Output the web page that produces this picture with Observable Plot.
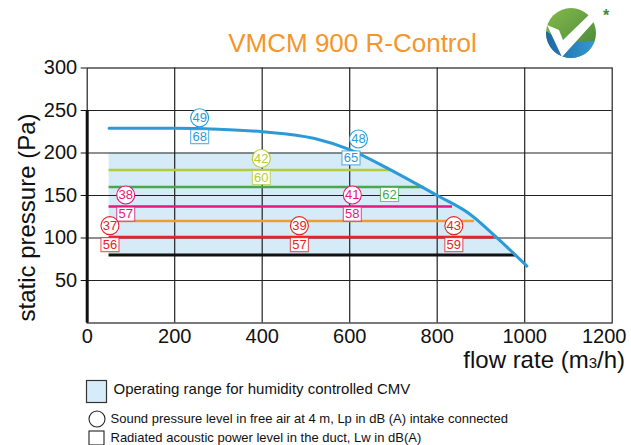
<!DOCTYPE html>
<html><head><meta charset="utf-8">
<script src="https://cdn.jsdelivr.net/npm/d3@7"></script>
<script src="https://cdn.jsdelivr.net/npm/@observablehq/plot@0.6"></script>
<style>
html,body{margin:0;padding:0;background:#fff;}
#wrap{position:relative;width:631px;height:445px;overflow:hidden;font-family:"Liberation Sans",Arial,Helvetica,sans-serif;color:#111;}
#chart{position:absolute;left:0;top:0;}
.abs{position:absolute;white-space:nowrap;}
</style></head><body>
<div id="wrap">
  <div id="chart"></div>
  <div class="abs" style="left:152.5px;width:400px;text-align:center;top:30px;font-size:26px;line-height:26px;color:#f5952a;">VMCM 900 R-Control</div>
  <svg class="abs" style="left:538px;top:4px" width="80" height="60">
    <defs>
      <linearGradient id="lg1" x1="0" y1="0" x2="1" y2="1"><stop offset="0" stop-color="#8fc04c"/><stop offset="1" stop-color="#2e7634"/></linearGradient>
      <linearGradient id="lb1" x1="0" y1="0" x2="1" y2="0"><stop offset="0" stop-color="#1a5f9e"/><stop offset="1" stop-color="#3aa7dd"/></linearGradient>
      <clipPath id="lc1"><circle cx="33" cy="29" r="25"/></clipPath>
    </defs>
    <g clip-path="url(#lc1)">
      <rect x="0" y="0" width="80" height="60" fill="url(#lg1)"/>
      <path d="M0 20 Q 22 44 62 36 L 70 60 L 0 60 Z" fill="url(#lb1)"/>
    </g>
    <path d="M9 21 L 21 26 L 25 36 L 56 6 L 62 11 L 24 53 Z" fill="#fff"/>
  </svg>
  <div class="abs" style="left:603px;top:8px;font-size:16px;line-height:16px;font-weight:bold;color:#3d8c3d;">*</div>
  <div class="abs" style="right:6px;top:347.7px;font-size:24px;line-height:24px;">flow rate (m<span style="font-size:15px">3</span>/h)</div>
  <svg class="abs" style="left:85px;top:379px" width="24" height="25"><rect x="1.5" y="1.5" width="20" height="22" fill="#d6ecf8" stroke="#333" stroke-width="1.2"/></svg>
  <div class="abs" style="left:113.5px;top:380.5px;font-size:15px;line-height:15px;">Operating range for humidity controlled CMV</div>
  <svg class="abs" style="left:87px;top:409px" width="20" height="20"><circle cx="10" cy="10" r="8" fill="#fff" stroke="#222" stroke-width="1.1"/></svg>
  <div class="abs" style="left:110.5px;top:411.5px;font-size:13px;line-height:13px;">Sound pressure level in free air at 4 m, Lp in dB (A) intake connected</div>
  <svg class="abs" style="left:88px;top:430px" width="18" height="16"><rect x="1" y="1" width="15" height="14" fill="#fff" stroke="#222" stroke-width="1.1"/></svg>
  <div class="abs" style="left:110.5px;top:430.5px;font-size:13px;line-height:13px;">Radiated acoustic power level in the duct, Lw in dB(A)</div>
</div>
<script>
// Performance curve (flow m3/h, static pressure Pa)
const curveFlow = [50, 200, 300, 400, 520, 600, 690, 800, 875, 935, 1005];
const curvePressure = [229, 229, 228, 225, 217, 204, 181, 150, 128, 101, 67];

// Operating range (humidity controlled CMV)
const rangeLow = 80;
const rangeHigh = 200;

// Horizontal operating lines
const levelSeries = ["yellowGreen", "green", "magenta", "orange", "red", "range"];
const levelPressure = [180, 160, 137, 120, 101, 80];
const levelStart = [50, 50, 50, 50, 50, 50];
const levelEnd = [695, 770, 835, 885, 930, 980];

// Sound pressure level Lp (circles)
const lpSeries = ["curve", "curve", "yellowGreen", "magenta", "magenta", "red", "red", "red"];
const lpFlow = [257, 620, 398, 88, 606, 52, 485, 838];
const lpPressure = [228, 203, 180, 137, 137, 101, 101, 101];
const lpValue = [49, 48, 42, 38, 41, 37, 39, 43];

// Acoustic power level Lw (boxes)
const lwSeries = ["curve", "curve", "yellowGreen", "green", "magenta", "magenta", "red", "red", "red"];
const lwFlow = [257, 603, 398, 691, 88, 606, 52, 485, 838];
const lwPressure = [228, 203, 180, 160, 137, 137, 101, 101, 101];
const lwValue = [68, 65, 60, 62, 57, 58, 56, 57, 59];

// Axes
const xTicks = [0, 200, 400, 600, 800, 1000, 1200];
const yTicks = [50, 100, 150, 200, 250, 300];
const yLabel = "static pressure (Pa)";
const axisAccent = [{q: 0, from: 0, to: 250}];

const curve = curveFlow.map((q, i) => ({q, p: curvePressure[i]}));
const levels = levelSeries.map((s, i) => ({s, p: levelPressure[i], from: levelStart[i], to: levelEnd[i]}));
const lp = lpSeries.map((s, i) => ({s, q: lpFlow[i], p: lpPressure[i], v: String(lpValue[i])}));
const lw = lwSeries.map((s, i) => ({s, q: lwFlow[i], p: lwPressure[i], v: String(lwValue[i])}));
const outside = [{lo: rangeHigh, hi: 300}, {lo: 0, hi: rangeLow}];

const boxSymbol = {draw(ctx) { ctx.rect(-9, -7, 18, 14); }};
const gridColor = "#222";
const fmt = d => String(d);

const chart = Plot.plot({
  width: 631,
  height: 445,
  marginLeft: 86.7,
  marginRight: 19.3,
  marginTop: 67.5,
  marginBottom: 122.5,
  x: {domain: [0, 1200]},
  y: {domain: [0, 300]},
  color: {
    domain: ["curve", "yellowGreen", "green", "magenta", "orange", "red", "range"],
    range: ["#2b9bd8", "#b3cc37", "#4aa84b", "#e3197d", "#f29b33", "#e42428", "#111111"]
  },
  style: {fontFamily: "'Liberation Sans', Arial, Helvetica, sans-serif", color: "#111", background: "transparent", overflow: "visible"},
  marks: [
    Plot.areaY(curve, {x: "q", y1: () => rangeLow, y2: "p", fill: "#d5ebf8", curve: "monotone-x"}),
    Plot.rect(outside, {x1: () => 0, x2: () => 1200, y1: "lo", y2: "hi", fill: "white"}),
    Plot.gridX(xTicks.slice(1, -1), {stroke: gridColor, strokeOpacity: 1, strokeWidth: 1.2}),
    Plot.gridY(yTicks.slice(0, -1), {stroke: gridColor, strokeOpacity: 1, strokeWidth: 1.2}),
    Plot.frame({stroke: gridColor, strokeWidth: 1.2}),
    Plot.axisX(xTicks.slice(0, -1), {tickSize: 0, tickPadding: 6, fontSize: 20, label: null, fill: "#111", tickFormat: fmt}),
    Plot.axisX(xTicks.slice(-1), {tickSize: 0, tickPadding: 6, fontSize: 20, label: null, fill: "#111", tickFormat: fmt, dx: -8}),
    Plot.axisY(yTicks, {tickSize: 6, tickPadding: 4, fontSize: 20, label: null, fill: "#111", stroke: "#111", tickFormat: fmt}),
    Plot.ruleX(axisAccent, {x: "q", y1: "from", y2: "to", stroke: "#111", strokeWidth: 3}),
    Plot.text([yLabel], {text: d => d, frameAnchor: "left", textAnchor: "middle", dx: -60, dy: 22, rotate: -90, fontSize: 24, fill: "#111"}),
    Plot.ruleY(levels, {y: "p", x1: "from", x2: "to", stroke: "s", strokeWidth: d => d.s === "range" ? 3.2 : 2.6}),
    Plot.line(curve, {x: "q", y: "p", stroke: () => "curve", strokeWidth: 3, curve: "monotone-x"}),
    Plot.dot(lw, {x: "q", y: "p", dy: 7.5, symbol: boxSymbol, fill: "white", stroke: "s", strokeOpacity: 0.7, strokeWidth: 1.2}),
    Plot.text(lw, {x: "q", y: "p", dy: 7.5, text: "v", fill: "s", fontSize: 13}),
    Plot.dot(lp, {x: "q", y: "p", dy: -11.5, r: 9, fill: "white", stroke: "s", strokeWidth: 1.1}),
    Plot.text(lp, {x: "q", y: "p", dy: -11.5, text: "v", fill: "s", fontSize: 13})
  ]
});
document.getElementById("chart").appendChild(chart);
</script>
</body></html>
